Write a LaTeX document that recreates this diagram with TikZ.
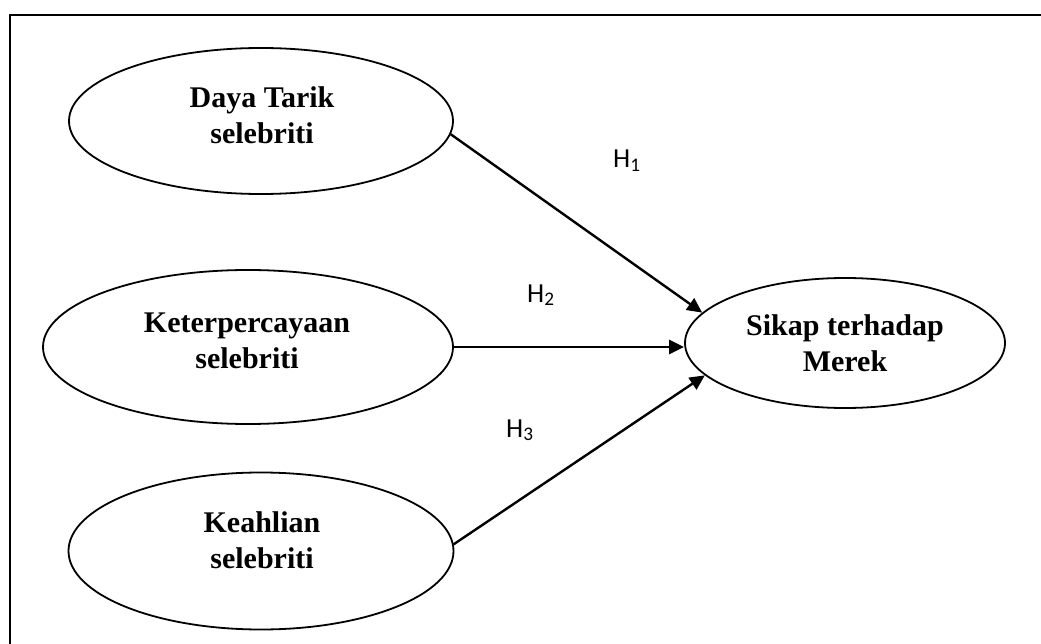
\documentclass[tikz,border=0pt]{standalone}
\usepackage{fontspec}
\setmainfont{Liberation Serif}
\newfontfamily\hfont{Carlito}
\usetikzlibrary{shapes.geometric,arrows.meta}
\begin{document}
\begin{tikzpicture}[x=1pt,y=-1pt,
 ell/.style={draw, ellipse, line width=1.8pt, inner sep=0pt},
 lbl/.style={align=center, inner sep=0pt, font=\fontsize{30}{36}\selectfont\bfseries},
 hyp/.style={anchor=base west, inner sep=0pt, font=\fontsize{27.5}{30}\selectfont\hfont},
 conn/.style={line width=2.4pt, -{Triangle[length=15pt,width=14pt]}}]
\useasboundingbox (0,0) rectangle (1041,644);
\coordinate (ftl) at (10,15);
\coordinate (ftr) at (1041,15);
\coordinate (fbl) at (10,644);
\draw[line width=2.4pt] (ftr) -- (ftl) -- (fbl);

\node[ell, minimum width=384pt, minimum height=146pt] (daya) at (261,121) {};
\node[lbl] (dayat) at (262,115) {Daya Tarik\\selebriti};

\node[ell, minimum width=410pt, minimum height=154pt] (kete) at (248,347) {};
\node[lbl] (ketet) at (247,341) {Keterpercayaan\\selebriti};

\node[ell, minimum width=320pt, minimum height=130pt] (sikap) at (845,343) {};
\node[lbl] (sikapt) at (845,343) {Sikap terhadap\\Merek};

\node[ell, minimum width=385pt, minimum height=157pt] (keah) at (261,551) {};
\node[lbl] (keaht) at (262,540) {Keahlian\\selebriti};

\draw[conn] (daya.-4) -- (sikap.168);
\draw[conn] (kete.east) -- (kete.east -| sikap.west);
\draw[conn] (keah.2) -- (sikap.193);

\node[hyp] (h1) at (613,168) {H\textsubscript{1}};
\node[hyp] (h2) at (527,302) {H\textsubscript{2}};
\node[hyp] (h3) at (506,437) {H\textsubscript{3}};
\end{tikzpicture}
\end{document}
